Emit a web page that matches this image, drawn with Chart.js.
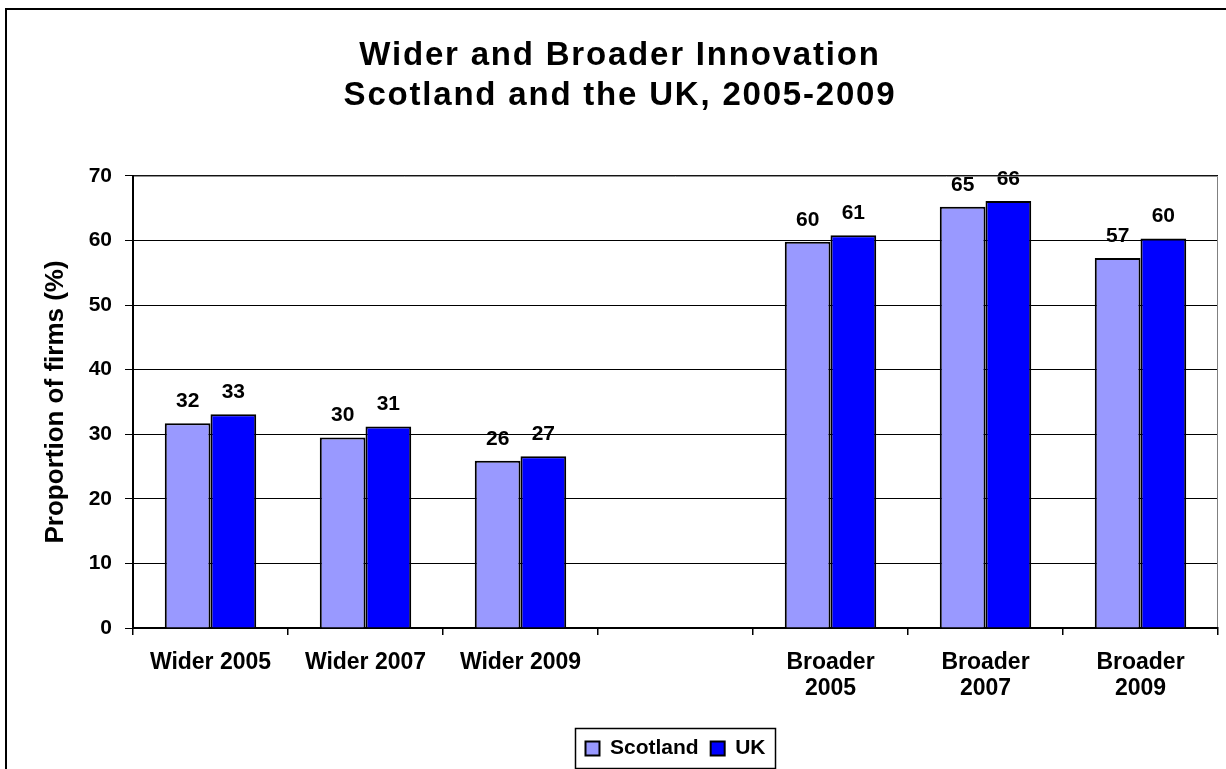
<!DOCTYPE html>
<html>
<head>
<meta charset="utf-8">
<script src="https://cdn.jsdelivr.net/npm/chart.js@4"></script>
<style>
  html, body { margin: 0; padding: 0; background: #fff; }
  #wrap { position: relative; width: 1226px; height: 769px; }
</style>
</head>
<body>
<div id="wrap"><canvas id="myChart" width="1226" height="769"></canvas></div>
<script>
// chart data
var categories = ['Wider 2005', 'Wider 2007', 'Wider 2009', '', ['Broader', '2005'], ['Broader', '2007'], ['Broader', '2009']];
var seriesNames = ['Scotland', 'UK'];
var scotlandValues = [31.7, 29.5, 25.9, null, 59.8, 65.2, 57.3];
var ukValues = [33.1, 31.2, 26.6, null, 60.8, 66.1, 60.3];
var yMin = 0, yMax = 70, yStep = 10;
var titleLines = ['Wider and Broader Innovation', 'Scotland and the UK, 2005-2009'];
var yTitle = 'Proportion of firms (%)';

var fontFamily = '"Liberation Sans", Arial, Helvetica, sans-serif';
Chart.defaults.font.family = fontFamily;
Chart.defaults.font.weight = 'bold';
Chart.defaults.color = '#000';

var frameLines = {
    id: 'frameLines',
    afterInit: function (chart) {
        // the original title is set a bit loose
        var tb = chart.titleBlock;
        if (tb) {
            var orig = tb.draw;
            tb.draw = function () {
                var c = chart.ctx;
                c.save();
                c.letterSpacing = '1.8px';
                orig.apply(tb, arguments);
                c.restore();
            };
        }
    },
    beforeDraw: function (chart) {
        var ctx = chart.ctx;
        ctx.save();
        ctx.fillStyle = '#fff';
        ctx.fillRect(0, 0, chart.width, chart.height);
        ctx.strokeStyle = '#000';
        ctx.lineWidth = 2;
        ctx.beginPath();
        ctx.moveTo(6, chart.height);
        ctx.lineTo(6, 9);
        ctx.lineTo(chart.width, 9);
        ctx.stroke();
        ctx.restore();
    },
    afterDraw: function (chart) {
        var ctx = chart.ctx;
        var a = chart.chartArea;
        ctx.save();
        // plot area edge, grey like the original
        ctx.strokeStyle = '#808080';
        ctx.lineWidth = 1;
        ctx.beginPath();
        ctx.moveTo(a.left + 1, a.top + 0.5);
        ctx.lineTo(a.right - 0.5, a.top + 0.5);
        ctx.lineTo(a.right - 0.5, a.bottom - 1);
        ctx.stroke();
        // box round the legend
        var boxes = chart.legend.legendHitBoxes;
        if (boxes && boxes.length) {
            var l = Math.min.apply(null, boxes.map(function (b) { return b.left; })) - 10;
            var r = Math.max.apply(null, boxes.map(function (b) { return b.left + b.width; })) + 10;
            var t = Math.min.apply(null, boxes.map(function (b) { return b.top; })) - 9.5;
            var btm = Math.max.apply(null, boxes.map(function (b) { return b.top + b.height; })) + 9.5;
            ctx.strokeStyle = '#000';
            ctx.lineWidth = 1.5;
            ctx.strokeRect(l, t, r - l, btm - t);
        }
        ctx.restore();
    }
};

var valueLabels = {
    id: 'valueLabels',
    afterDatasetsDraw: function (chart) {
        var ctx = chart.ctx;
        ctx.save();
        ctx.fillStyle = '#000';
        ctx.font = 'bold 21px ' + fontFamily;
        ctx.textAlign = 'center';
        ctx.textBaseline = 'middle';
        chart.data.datasets.forEach(function (dataset, i) {
            var meta = chart.getDatasetMeta(i);
            if (meta.hidden) return;
            meta.data.forEach(function (bar, index) {
                var v = dataset.data[index];
                if (v === null || v === undefined) return;
                ctx.fillText(String(Math.round(v)), bar.x, bar.y - 22);
            });
        });
        ctx.restore();
    }
};

var ctx = document.getElementById('myChart').getContext('2d');
var myChart = new Chart(ctx, {
    type: 'bar',
    data: {
        labels: categories,
        datasets: [{
            label: seriesNames[0],
            data: scotlandValues,
            backgroundColor: '#9999FF',
            borderColor: '#000',
            borderWidth: 2,
            barPercentage: 1,
            categoryPercentage: 0.59
        }, {
            label: seriesNames[1],
            data: ukValues,
            backgroundColor: '#0000FF',
            borderColor: '#000',
            borderWidth: 2,
            barPercentage: 1,
            categoryPercentage: 0.59
        }]
    },
    options: {
        responsive: false,
        animation: false,
        devicePixelRatio: 1,
        layout: { padding: { left: 22, right: 8, top: 0, bottom: 0 } },
        plugins: {
            title: {
                display: true,
                text: titleLines,
                color: '#000',
                font: { size: 33, weight: 'bold', lineHeight: 1.21 },
                padding: { top: 36, bottom: 60 }
            },
            legend: {
                position: 'bottom',
                fullSize: false,
                maxHeight: 44,
                labels: {
                    color: '#000',
                    font: { size: 21, weight: 'bold' },
                    boxWidth: 14,
                    boxHeight: 14,
                    padding: 12
                }
            },
            tooltip: { enabled: false }
        },
        scales: {
            x: {
                grid: {
                    offset: true,
                    drawOnChartArea: false,
                    color: '#000',
                    tickLength: 7,
                    lineWidth: 1.5
                },
                border: { color: '#000', width: 2 },
                ticks: {
                    color: '#000',
                    font: { size: 23, weight: 'bold', lineHeight: 1.13 },
                    padding: 15,
                    maxRotation: 0,
                    autoSkip: false
                },
                afterFit: function (scale) { scale.height = 98; }
            },
            y: {
                min: yMin,
                max: yMax,
                ticks: {
                    stepSize: yStep,
                    color: '#000',
                    font: { size: 21, weight: 'bold' },
                    padding: 13
                },
                grid: { color: '#000', tickLength: 8, lineWidth: 1 },
                border: { color: '#000', width: 2 },
                title: {
                    display: true,
                    text: yTitle,
                    color: '#000',
                    font: { size: 26, weight: 'bold' },
                    padding: { top: 18, bottom: 0 }
                },
                afterFit: function (scale) { scale.width = 111; }
            }
        }
    },
    plugins: [frameLines, valueLabels]
});
</script>
</body>
</html>
